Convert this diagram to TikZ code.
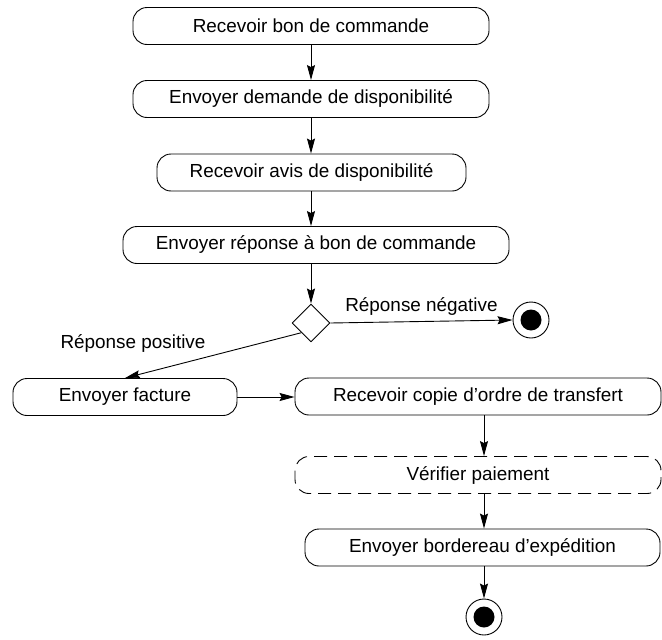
\documentclass[tikz,border=0pt]{standalone}
\usepackage{fontspec}
\setmainfont{Liberation Sans}
\usetikzlibrary{arrows.meta,shapes.geometric}
\tikzset{
	activite/.style={draw, rectangle, rounded corners=14pt, minimum height=37pt, inner sep=0pt, line width=0.9pt},
	choix/.style={draw, diamond, minimum width=38pt, minimum height=38pt, inner sep=0pt, line width=0.9pt},
	fin/.style={draw, circle, minimum size=36pt, inner sep=0pt, line width=0.9pt, path picture={\fill (path picture bounding box.center) circle (10.5pt);}},
	fleche/.style={-{Stealth[length=15pt,width=8pt,inset=2pt]}, line width=0.9pt}
}
\begin{document}
\begin{tikzpicture}[x=1pt, y=-1pt, font=\fontsize{18.9}{22}\selectfont, line join=round]
			\useasboundingbox (0,0) rectangle (662,640);
			% activites du haut
			\node[activite, minimum width=356pt] (rbc) at (311,26) {Recevoir bon de commande};
			\node[activite, minimum width=356pt] (edd) at (311,99) {Envoyer demande de disponibilité};
			\node[activite, minimum width=309pt] (rad) at (311.5,172.5) {Recevoir avis de disponibilité};
			\node[activite, minimum width=386pt] (erb) at (316,245) {Envoyer réponse à bon de commande};
			\node[choix] (dec) at (311,323) {};
			\node[fin] (fin1) at (531,320) {};
			% branche positive
			\node[activite, minimum width=224pt] (ef) at (125,397) {Envoyer facture};
			\node[activite, minimum width=366pt] (rco) at (478,396.5) {Recevoir copie d’ordre de transfert};
			\node[activite, minimum width=366pt, dash pattern=on 13pt off 7pt] (vp) at (478,475) {Vérifier paiement};
			\node[activite, minimum width=355pt] (ebe) at (482.5,547.5) {Envoyer bordereau d’expédition};
			\node[fin] (fin2) at (484,617) {};
			\draw[fleche] (rbc.south -| dec) -- (edd.north -| dec);
			\draw[fleche] (edd.south -| dec) -- (rad.north -| dec);
			\draw[fleche] (rad.south -| dec) -- (erb.north -| dec);
			\draw[fleche] (erb.south -| dec) -- (dec.north);
			\draw[fleche] (dec.east) -- node[above=2pt]{Réponse négative} (fin1.west);
			\draw[fleche] (dec.south west) -- (ef.north);
			\node at (133,343) {Réponse positive};
			\draw[fleche] (ef.east) -- (ef.east -| rco.west);
			\draw[fleche] (rco.south -| fin2) -- (vp.north -| fin2);
			\draw[fleche] (vp.south -| fin2) -- (ebe.north -| fin2);
			\draw[fleche] (ebe.south -| fin2) -- (fin2.north);
\end{tikzpicture}
\end{document}
